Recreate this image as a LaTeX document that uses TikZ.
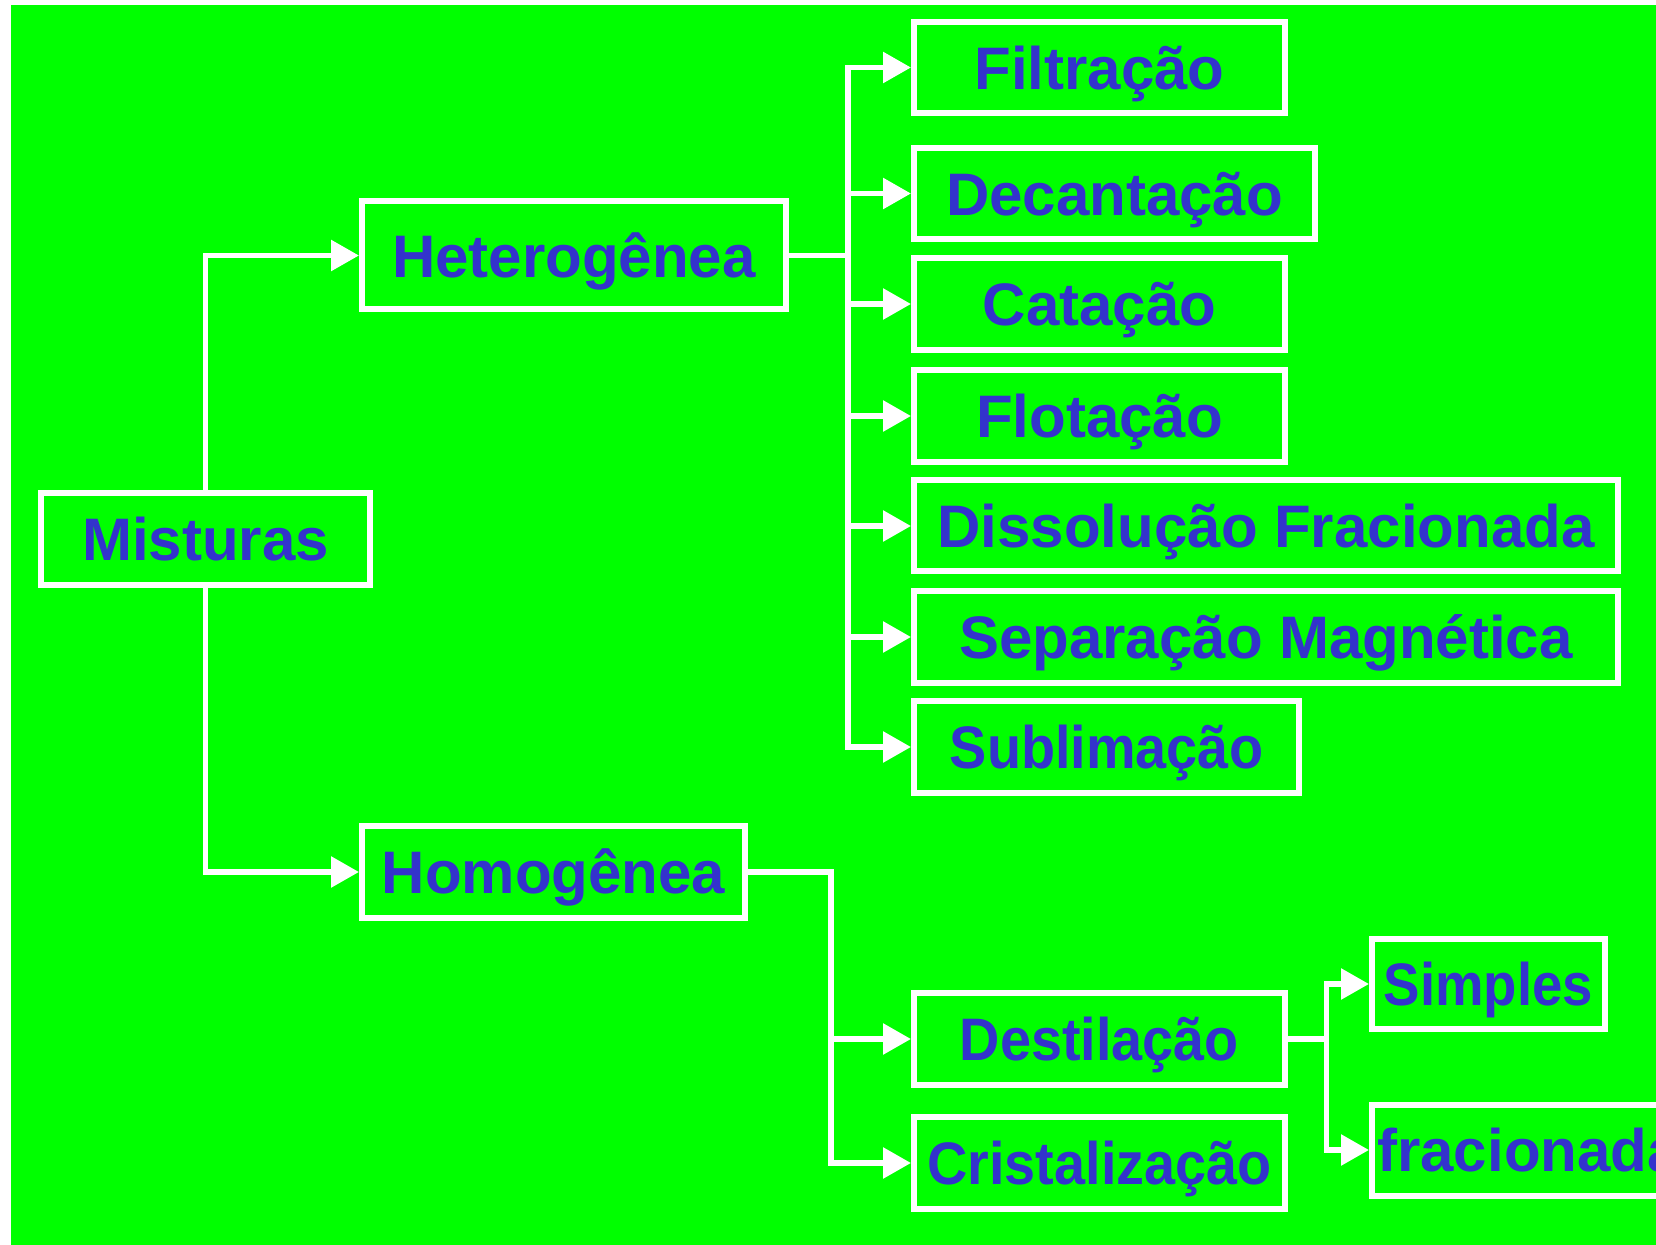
\documentclass[tikz,border=0pt]{standalone}
\usepackage{fontspec}
\setmainfont{Liberation Sans}
\usetikzlibrary{arrows.meta}
\definecolor{bg}{HTML}{00FF00}
\definecolor{txt}{HTML}{3333CC}
\tikzset{
  box/.style={draw=white, line width=3pt, inner sep=0pt, text=txt,
    font=\fontsize{30pt}{36pt}\selectfont\bfseries, text height=21.6pt, text depth=0pt},
  conn/.style={draw=white, line width=2.9pt, line cap=rect},
  arr/.style={conn, -{Triangle[length=14pt,width=15pt]}}
}
\newcommand{\narrow}[2]{\scalebox{#1}[1]{#2}}
\begin{document}
\begin{tikzpicture}[x=0.5pt,y=-0.5pt]
\useasboundingbox (0,0) rectangle (1656,1245);
\clip (0,0) rectangle (1656,1245);
\fill[white] (0,0) rectangle (1656,1245);
\fill[bg] (10.5,5) rectangle (1656,1245);

\node[box, minimum width=329pt*0.5, minimum height=92pt*0.5] (mis) at (205.5,539) {Misturas};
\node[box, minimum width=424pt*0.5, minimum height=108pt*0.5] (het) at (574,255.5) {Heterogênea};
\node[box, minimum width=383pt*0.5, minimum height=92pt*0.5] (hom) at (553.5,872) {Homogênea};

\node[box, minimum width=371pt*0.5, minimum height=91pt*0.5] (fil) at (1099.5,67.5) {Filtração};
\node[box, minimum width=401pt*0.5, minimum height=91pt*0.5] (dec) at (1114.5,193.5) {Decantação};
\node[box, minimum width=371pt*0.5, minimum height=92pt*0.5] (cat) at (1099.5,304) {Catação};
\node[box, minimum width=371pt*0.5, minimum height=92pt*0.5] (flo) at (1099.5,416) {Flotação};
\node[box, minimum width=704pt*0.5, minimum height=91pt*0.5] (dis) at (1266,526) {Dissolução Fracionada};
\node[box, minimum width=704pt*0.5, minimum height=92pt*0.5] (sep) at (1266,637) {Separação Magnética};
\node[box, minimum width=385pt*0.5, minimum height=92pt*0.5] (sub) at (1106.5,747) {\narrow{0.93}{Sublimação}};

\node[box, minimum width=371pt*0.5, minimum height=92pt*0.5] (des) at (1099.5,1039) {\narrow{0.93}{Destilação}};
\node[box, minimum width=371pt*0.5, minimum height=92pt*0.5] (cri) at (1099.5,1163) {\narrow{0.93}{Cristalização}};

\node[box, minimum width=233pt*0.5, minimum height=90pt*0.5] (sim) at (1488.5,984) {\narrow{0.91}{Simples}};
\node[box, minimum width=314pt*0.5, minimum height=91pt*0.5] (fra) at (1529,1150) {fracionada};

\coordinate (hs) at (848,255.5);
\coordinate (hm) at (831,872);
\coordinate (dm) at (1326.5,1039);

\draw[arr] (mis.north) |- (het.west);
\draw[arr] (mis.south) |- (hom.west);

\draw[conn] (het.east) -- (hs);
\foreach \n in {fil,dec,cat,flo,dis,sep,sub}{
  \draw[arr] (hs) |- (\n.west);
}

\draw[conn] (hom.east) -- (hm);
\draw[arr] (hm) |- (des.west);
\draw[arr] (hm) |- (cri.west);

\draw[conn] (des.east) -- (dm);
\draw[arr] (dm) |- (sim.west);
\draw[arr] (dm) |- (fra.west);
\end{tikzpicture}
\end{document}
